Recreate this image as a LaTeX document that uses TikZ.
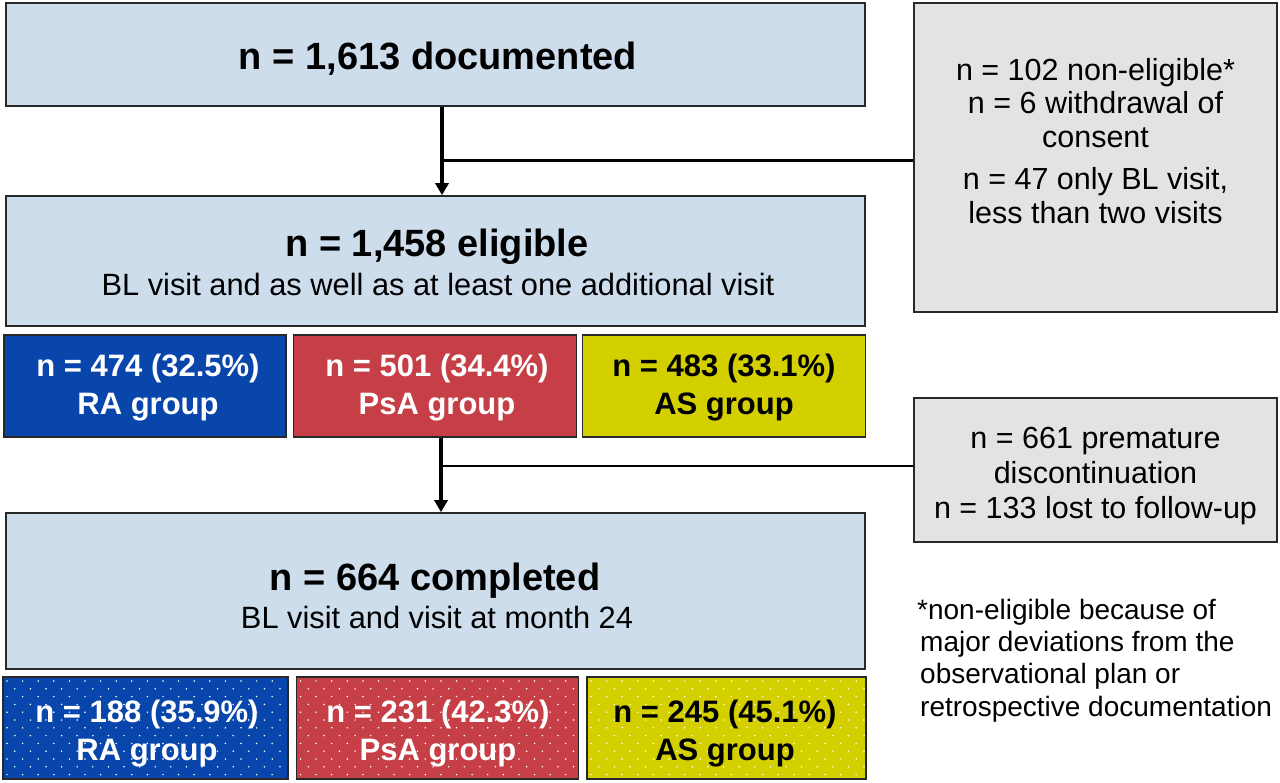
\documentclass[tikz,border=0pt]{standalone}
\usepackage{fontspec}
\setmainfont{Liberation Sans}
\usetikzlibrary{arrows.meta,calc}
\definecolor{lblue}{RGB}{205,221,236}
\definecolor{rablue}{RGB}{8,70,172}
\definecolor{psred}{RGB}{198,63,71}
\definecolor{asyel}{RGB}{212,208,0}
\definecolor{exgray}{RGB}{227,227,227}
\definecolor{bordc}{RGB}{40,40,40}
\begin{document}
\begin{tikzpicture}[x=1pt,y=-1pt,
  box/.style={draw=bordc, line width=1.6pt, inner sep=0pt, rectangle},
  mainbox/.style={box, fill=lblue, minimum width=859pt},
  exbox/.style={box, fill=exgray, minimum width=363pt},
  grp/.style={box, minimum height=102pt},
  grptxt/.style={inner sep=0pt, align=center, font=\fontsize{31}{38}\selectfont\bfseries},
  titletxt/.style={inner sep=0pt, anchor=base, font=\fontsize{38}{44}\selectfont\bfseries},
  subtxt/.style={inner sep=0pt, anchor=base, font=\fontsize{30.8}{35}\selectfont},
  extxt/.style={inner sep=0pt, align=center, font=\fontsize{30.5}{33.5}\selectfont},
  dotfill/.style={path picture={
     \foreach \j in {0,...,13}{\foreach \i in {0,...,19}{
       \fill[white] ($(path picture bounding box.north west)+({4+\i*15.6+mod(\j,2)*7.8},{4+\j*7.8})$) circle (0.85);}}}},
  arr/.style={line width=3.2pt, -{Triangle[length=12pt,width=13pt]}},
  ln/.style={line width=2.8pt}
]
\useasboundingbox (0,0) rectangle (1280,783);
\fill[white] (0,0) rectangle (1280,783);

% main column boxes
\node[mainbox, minimum height=103pt] (top) at (435.5,54.5) {};
\node[titletxt] (toptxt) at (438,70) {n = 1,613 documented};

\node[mainbox, minimum height=130pt] (elig) at (435.5,261) {};
\node[titletxt] (eligtxt) at (437,257) {n = 1,458 eligible};
\node[subtxt] (eligsub) at (438,296) {BL visit and as well as at least one additional visit};

\node[grp, fill=rablue, minimum width=282pt] (ra1) at (145,386) {};
\node[grp, fill=psred, minimum width=283pt] (ps1) at (435,386) {};
\node[grp, fill=asyel, minimum width=283pt] (as1) at (724,386) {};
\node[grptxt, text=white] (ra1t) at (148,388) {n = 474 (32.5\%)\\RA group};
\node[grptxt, text=white] (ps1t) at (437,388) {n = 501 (34.4\%)\\PsA group};
\node[grptxt, text=black] (as1t) at (724,388) {n = 483 (33.1\%)\\AS group};

\node[mainbox, minimum height=156pt] (comp) at (435.5,591) {};
\node[titletxt] (comptxt) at (435,590) {n = 664 completed};
\node[subtxt] (compsub) at (437,628) {BL visit and visit at month 24};

\node[grp, dotfill, fill=rablue, minimum width=285pt] (ra2) at (145.5,728) {};
\node[grp, dotfill, fill=psred, minimum width=282pt] (ps2) at (437.5,728) {};
\node[grp, dotfill, fill=asyel, minimum width=279pt] (as2) at (726.5,728) {};
\node[grptxt, text=white] (ra2t) at (147,734) {n = 188 (35.9\%)\\RA group};
\node[grptxt, text=white] (ps2t) at (438,734) {n = 231 (42.3\%)\\PsA group};
\node[grptxt, text=black] (as2t) at (725,734) {n = 245 (45.1\%)\\AS group};

% exclusion boxes
\node[exbox, minimum height=309pt] (ex1) at (1095.5,157.5) {};
\node[extxt] (ex1txt) at (1095.5,141) {n = 102 non-eligible*\\n = 6 withdrawal of\\consent\\[9pt]n = 47 only BL visit,\\less than two visits};

\node[exbox, minimum height=144pt] (ex2) at (1095.5,470) {};
\node[extxt, font=\fontsize{30.5}{35}\selectfont] (ex2txt) at (1095.5,476) {n = 661 premature\\discontinuation\\n = 133 lost to follow-up};

% footnote
\node[inner sep=0pt, anchor=west, align=left, font=\fontsize{28}{32.3}\selectfont] (foot) at (917,660.5)
  {*non-eligible because of\\\hspace*{3pt}major deviations from the\\\hspace*{3pt}observational plan or\\\hspace*{3pt}retrospective documentation};

% connectors
\coordinate (j1) at (442,160.5);
\draw[arr] (top.south -| j1) -- (elig.north -| j1);
\draw[ln] (j1) -- (j1 -| ex1.west);
\coordinate (j2) at (441,466);
\draw[arr] (ps1.south -| j2) -- (comp.north -| j2);
\draw[ln] (j2) -- (j2 -| ex2.west);
\end{tikzpicture}
\end{document}
